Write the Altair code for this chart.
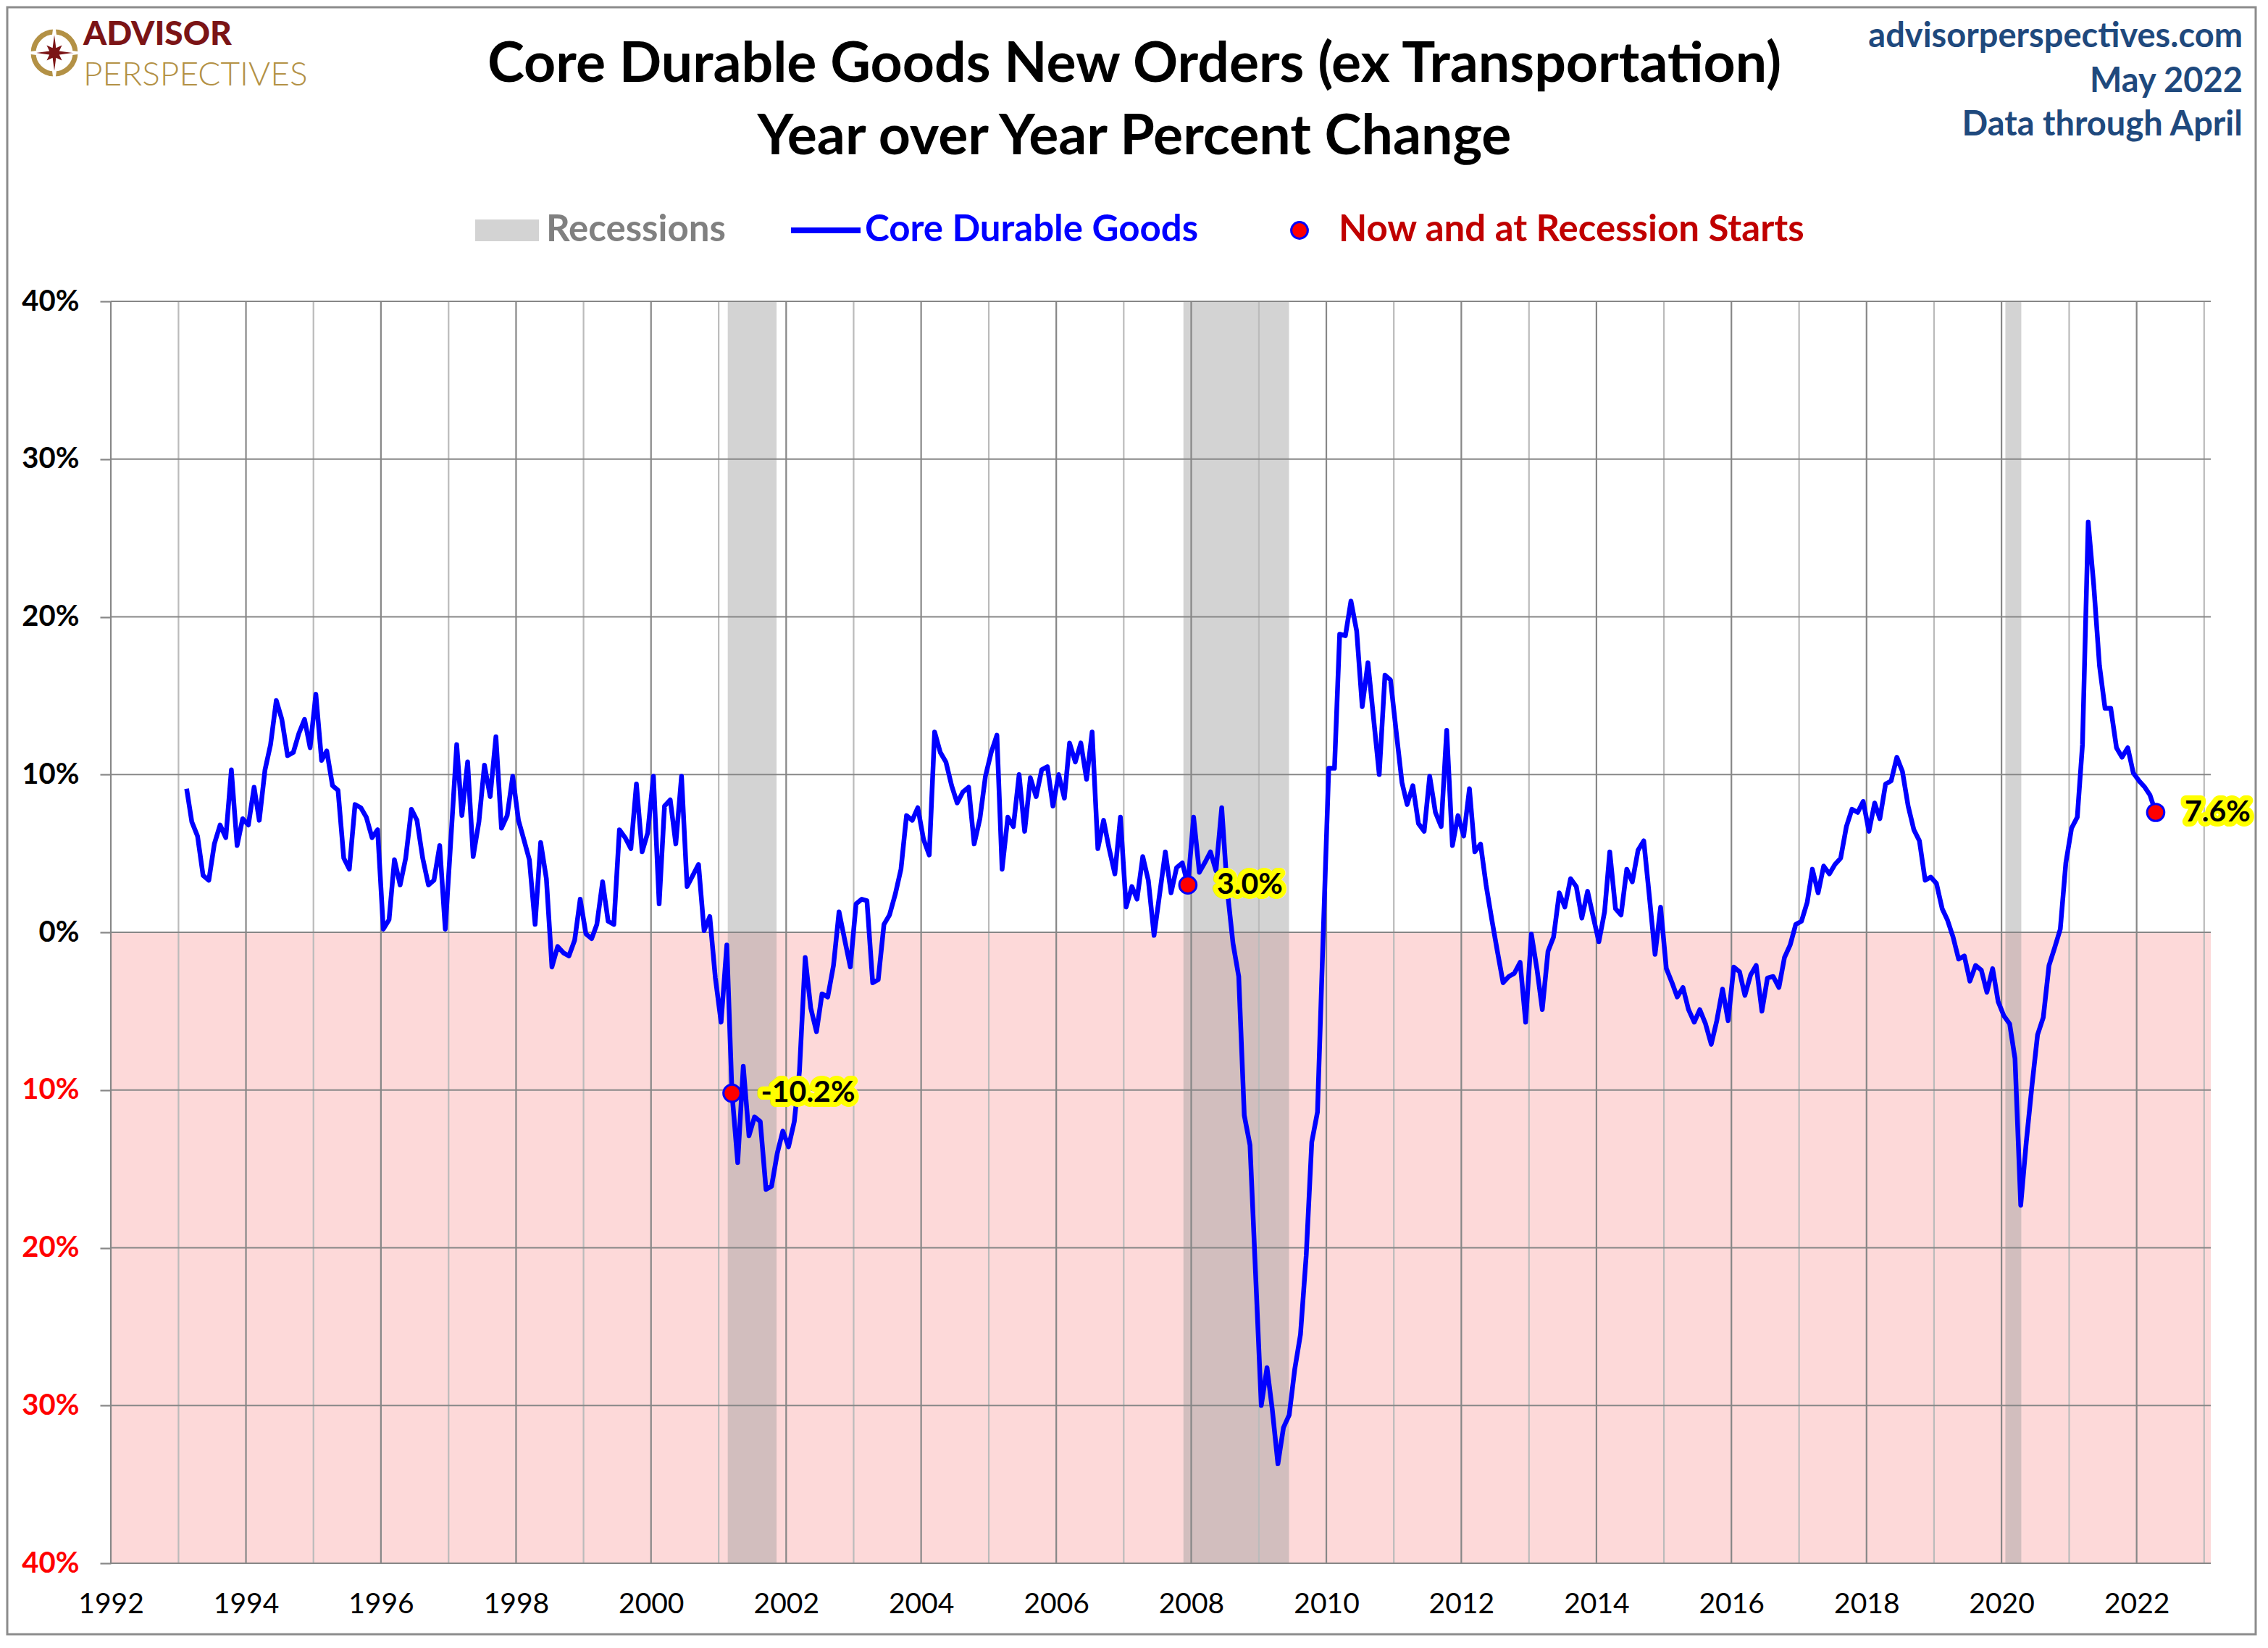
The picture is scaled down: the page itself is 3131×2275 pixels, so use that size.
import altair as alt
import pandas as pd

# ---------------- data ----------------
# Year-over-year % change of core durable goods new orders, monthly.
# 1993 starts in February; 2022 ends in April.
yoy = {
    1993: [9.1, 7.0, 6.1, 3.6, 3.3, 5.6, 6.8, 6.0, 10.3, 5.5, 7.2],
    1994: [6.8, 9.2, 7.1, 10.3, 11.9, 14.7, 13.5, 11.2, 11.4, 12.6, 13.5, 11.7],
    1995: [15.1, 10.9, 11.5, 9.3, 9.0, 4.7, 4.0, 8.1, 7.9, 7.3, 6.0, 6.5],
    1996: [0.2, 0.8, 4.6, 3.0, 4.7, 7.8, 7.1, 4.7, 3.0, 3.3, 5.5, 0.2],
    1997: [6.0, 11.9, 7.4, 10.8, 4.8, 7.0, 10.6, 8.6, 12.4, 6.6, 7.4, 9.9],
    1998: [7.1, 5.8, 4.6, 0.5, 5.7, 3.4, -2.2, -0.9, -1.3, -1.5, -0.5, 2.1],
    1999: [-0.1, -0.4, 0.5, 3.2, 0.7, 0.5, 6.5, 6.0, 5.3, 9.4, 5.1, 6.3],
    2000: [9.9, 1.8, 8.0, 8.4, 5.6, 9.9, 2.9, 3.6, 4.3, 0.1, 1.0, -2.9],
    2001: [-5.7, -0.8, -10.2, -14.6, -8.5, -12.9, -11.7, -12.0, -16.3, -16.1, -14.0, -12.6],
    2002: [-13.6, -12.0, -8.8, -1.6, -4.8, -6.3, -3.9, -4.1, -2.1, 1.3, -0.5, -2.2],
    2003: [1.8, 2.1, 2.0, -3.2, -3.0, 0.5, 1.1, 2.4, 4.0, 7.4, 7.1, 7.9],
    2004: [5.9, 4.9, 12.7, 11.4, 10.8, 9.3, 8.2, 8.9, 9.2, 5.6, 7.2, 9.9],
    2005: [11.4, 12.5, 4.0, 7.3, 6.7, 10.0, 6.4, 9.8, 8.6, 10.3, 10.5, 8.0],
    2006: [10.0, 8.5, 12.0, 10.8, 12.0, 9.7, 12.7, 5.3, 7.1, 5.3, 3.7, 7.3],
    2007: [1.6, 2.9, 2.1, 4.8, 3.3, -0.2, 2.4, 5.1, 2.5, 4.1, 4.4, 3.0],
    2008: [7.3, 3.8, 4.4, 5.1, 3.9, 7.9, 2.7, -0.7, -2.8, -11.6, -13.5, -21.6],
    2009: [-30.0, -27.6, -30.2, -33.7, -31.4, -30.6, -27.7, -25.5, -20.5, -13.3, -11.4, -0.5],
    2010: [10.4, 10.4, 18.9, 18.8, 21.0, 19.1, 14.3, 17.1, 13.5, 10.0, 16.3, 16.0],
    2011: [12.7, 9.5, 8.1, 9.3, 6.9, 6.4, 9.9, 7.6, 6.7, 12.8, 5.5, 7.4],
    2012: [6.1, 9.1, 5.1, 5.6, 3.0, 0.8, -1.2, -3.2, -2.8, -2.6, -1.9, -5.7],
    2013: [-0.1, -2.4, -4.9, -1.2, -0.3, 2.5, 1.6, 3.4, 2.9, 0.9, 2.6, 1.0],
    2014: [-0.6, 1.3, 5.1, 1.5, 1.1, 4.0, 3.2, 5.2, 5.8, 2.3, -1.4, 1.6],
    2015: [-2.3, -3.2, -4.1, -3.5, -4.9, -5.7, -4.9, -5.8, -7.1, -5.6, -3.6, -5.6],
    2016: [-2.2, -2.5, -4.0, -2.7, -2.1, -5.0, -2.9, -2.8, -3.5, -1.6, -0.8, 0.5],
    2017: [0.7, 1.9, 4.0, 2.5, 4.2, 3.7, 4.3, 4.7, 6.7, 7.8, 7.6, 8.3],
    2018: [6.4, 8.2, 7.2, 9.4, 9.6, 11.1, 10.2, 8.0, 6.5, 5.8, 3.3, 3.5],
    2019: [3.1, 1.5, 0.8, -0.3, -1.7, -1.5, -3.1, -2.1, -2.4, -3.8, -2.3, -4.4],
    2020: [-5.3, -5.8, -8.0, -17.3, -13.3, -9.7, -6.5, -5.4, -2.1, -1.0, 0.2, 4.4],
    2021: [6.6, 7.3, 11.9, 26.0, 22.0, 16.9, 14.2, 14.2, 11.7, 11.1, 11.7, 10.1],
    2022: [9.6, 9.2, 8.7, 7.6],
}
first_month = {1993: 2}

# Recessions (shaded bands)
rec_start = ["2001-02-19", "2007-11-20", "2020-01-22"]
rec_end = ["2001-11-10", "2009-06-13", "2020-04-17"]

# Highlighted points: recession starts and latest value
mark_dates = ["2001-03-14", "2007-12-14", "2022-04-14"]
mark_values = [-10.2, 3.0, 7.6]
mark_labels = ["-10.2%", "3.0%", "7.6%"]

grid_years = list(range(1992, 2024))
label_years = list(range(1992, 2023, 2))
y_ticks = [-40, -30, -20, -10, 0, 10, 20, 30, 40]
x_domain = ["1992-01-01T00:00:00", "2023-02-06T00:00:00"]

# ---------------- tables ----------------
rows = []
for yr, vals in yoy.items():
    m0 = first_month.get(yr, 1)
    for i, v in enumerate(vals):
        rows.append({"date": f"{yr}-{m0 + i:02d}-14T00:00:00", "value": v})
df = pd.DataFrame(rows)

rec_df = pd.DataFrame({"start": [s + "T00:00:00" for s in rec_start],
                       "end": [e + "T00:00:00" for e in rec_end]})
mk_df = pd.DataFrame({"date": [d + "T00:00:00" for d in mark_dates],
                      "value": mark_values, "label": mark_labels})
vgrid = pd.DataFrame({"gx": [f"{y}-01-01T00:00:00" for y in grid_years]})
hgrid = pd.DataFrame({"gy": y_ticks})
neg_df = pd.DataFrame({"x0": [x_domain[0]], "x1": [x_domain[1]], "y0": [0], "y1": [-40]})

# ---------------- styling ----------------
W, H = 2899, 1742
FONT = "Lato"
DARK_GRID = "#878787"
LIGHT_GRID = "#BBBBBB"

x_scale = alt.Scale(domain=x_domain)
y_scale = alt.Scale(domain=[-40, 40], nice=False)

x_axis = alt.Axis(
    title=None, values=[alt.DateTime(year=y, month=1, date=1) for y in label_years],
    format="%Y", grid=False, domain=False, ticks=False, tickSize=0,
    labelFont=FONT, labelFontSize=39, labelColor="#000000", labelPadding=56,
    labelBaseline="middle", labelFontWeight="normal", labelFlush=False,
)
y_axis = alt.Axis(
    title=None, values=y_ticks, grid=False, domain=False, ticks=True, tickSize=15,
    tickColor=DARK_GRID, tickWidth=2.2, labelFont=FONT, labelFontSize=40,
    labelFontWeight="bold", labelPadding=29,
    labelExpr="abs(datum.value) + '%'",
    labelColor={"condition": {"test": "datum.value < 0", "value": "#FF0000"}, "value": "#000000"},
)

X = lambda f: alt.X(f"{f}:T", scale=x_scale, axis=x_axis)
Y = lambda f: alt.Y(f"{f}:Q", scale=y_scale, axis=y_axis)

neg_bg = alt.Chart(neg_df).mark_rect(color="#FDD9D9").encode(
    x=X("x0"), x2="x1", y=Y("y0"), y2="y1")

bands = alt.Chart(rec_df).mark_rect(color="#A0A0A0", opacity=0.46).encode(
    x=X("start"), x2="end", y=alt.value(0), y2=alt.value(H))

vlines = alt.Chart(vgrid).mark_rule(strokeWidth=2.2).encode(
    x=X("gx"),
    color=alt.condition("year(datum.gx) % 2 == 0", alt.value(DARK_GRID), alt.value(LIGHT_GRID)))

hlines = alt.Chart(hgrid).mark_rule(strokeWidth=2.2, color=DARK_GRID).encode(y=Y("gy"))

line = alt.Chart(df).mark_line(color="#0000FF", strokeWidth=6.5, strokeJoin="round").encode(
    x=X("date"), y=Y("value"))

dots = alt.Chart(mk_df).mark_point(shape="circle", filled=True, color="#FF0000",
                                   stroke="#0000FF", strokeWidth=3, size=560, opacity=1).encode(
    x=X("date"), y=Y("value"))

glow = alt.Chart(mk_df).mark_text(align="left", baseline="middle", dx=40, font=FONT,
                                  fontSize=41, fontWeight="bold", color="#FFFF00",
                                  stroke="#FFFF00", strokeWidth=14, strokeJoin="round").encode(
    x=X("date"), y=Y("value"), text="label:N")
labels = alt.Chart(mk_df).mark_text(align="left", baseline="middle", dx=40, font=FONT,
                                    fontSize=41, fontWeight="bold", color="#000000").encode(
    x=X("date"), y=Y("value"), text="label:N")

# ---------------- header / legend (pixel placed, relative to plot origin) ----------------
one = alt.Data(values=[{"k": 0}])


def txt(text, x, y, size, color, align="left", weight="bold"):
    return alt.Chart(one).mark_text(align=align, baseline="alphabetic", font=FONT,
                                    fontSize=size, fontWeight=weight, color=color).encode(
        x=alt.value(x), y=alt.value(y), text=alt.value(text))


title1 = txt("Core Durable Goods New Orders (ex Transportation)", 1413, -303, 77, "#000000", "center")
title2 = txt("Year over Year Percent Change", 1413, -203, 77, "#000000", "center")
site = txt("advisorperspectives.com", 2943, -351, 47, "#1F497D", "right")
date_t = txt("May 2022", 2943, -289, 47, "#1F497D", "right")
thru = txt("Data through April", 2943, -229, 47, "#1F497D", "right")

advisor = txt("ADVISOR", -38, -354, 46, "#7B1416", "left", 900)
persp = txt("PERSPECTIVES", -38, -298, 46, "#B39145", "left", 300)
ring = alt.Chart(one).mark_point(shape="circle", filled=False, stroke="#B39145",
                                 strokeWidth=7, size=3364, opacity=1).encode(
    x=alt.value(-78), y=alt.value(-343))
star_path = ("M0,-1 L0.1,-0.25 L0.38,-0.38 L0.25,-0.1 L1,0 L0.25,0.1 L0.38,0.38 L0.1,0.25 "
             "L0,1 L-0.1,0.25 L-0.38,0.38 L-0.25,0.1 L-1,0 L-0.25,-0.1 L-0.38,-0.38 L-0.1,-0.25 Z")
star = alt.Chart(one).mark_point(shape=star_path, filled=True, color="#7B1416",
                                 stroke="#FFFFFF", strokeWidth=3, size=5184, opacity=1).encode(
    x=alt.value(-78), y=alt.value(-343))

leg_rect = alt.Chart(one).mark_rect(color="#D3D3D3").encode(
    x=alt.value(503), x2=alt.value(591), y=alt.value(-113), y2=alt.value(-83))
leg_rec_t = txt("Recessions", 601, -83, 51, "#808080")
leg_line = alt.Chart(one).mark_rule(color="#0000FF", strokeWidth=8).encode(
    x=alt.value(939), x2=alt.value(1035), y=alt.value(-98))
leg_line_t = txt("Core Durable Goods", 1041, -83, 51, "#0000FF")
leg_dot = alt.Chart(one).mark_point(shape="circle", filled=True, color="#FF0000",
                                    stroke="#0000FF", strokeWidth=3, size=520, opacity=1).encode(
    x=alt.value(1641), y=alt.value(-98))
leg_dot_t = txt("Now and at Recession Starts", 1695, -83, 51, "#C00000")

frame = alt.Chart(one).mark_rect(fillOpacity=0, stroke="#8C8C8C", strokeWidth=3).encode(
    x=alt.value(-143), x2=alt.value(W + 62), y=alt.value(-406), y2=alt.value(H + 98))

chart = alt.layer(
    neg_bg, bands, vlines, hlines, line, dots, glow, labels,
    title1, title2, site, date_t, thru, ring, star, advisor, persp,
    leg_rect, leg_rec_t, leg_line, leg_line_t, leg_dot, leg_dot_t, frame,
).properties(
    width=W, height=H,
    autosize=alt.AutoSizeParams(type="none"),
    padding={"left": 145, "top": 408, "right": 64, "bottom": 100},
    background="#FFFFFF",
).configure_view(stroke=None)

chart.save("out.html", embed_options={"renderer": "svg", "actions": False})
